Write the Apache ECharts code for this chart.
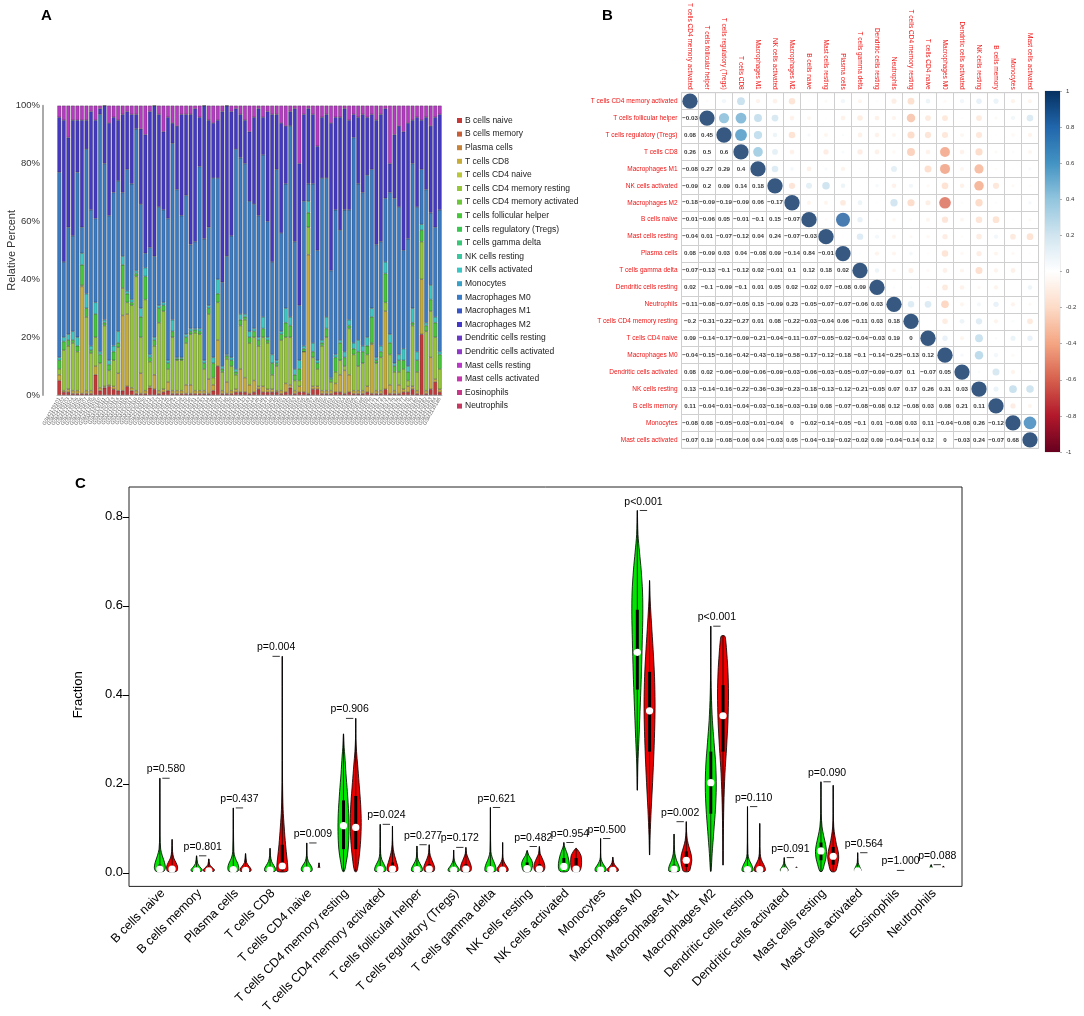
<!DOCTYPE html>
<html>
<head>
<meta charset="utf-8">
<script src="https://cdn.jsdelivr.net/npm/echarts@6.0.0/dist/echarts.min.js"></script>
<style>
html, body { margin: 0; padding: 0; background: #fff; }
#main { width: 1084px; height: 1016px; }
</style>
</head>
<body>
<div id="main"></div>
<script>
var cellTypes = ['B cells naive', 'B cells memory', 'Plasma cells', 'T cells CD8', 'T cells CD4 naive',
  'T cells CD4 memory resting', 'T cells CD4 memory activated', 'T cells follicular helper',
  'T cells regulatory (Tregs)', 'T cells gamma delta', 'NK cells resting', 'NK cells activated',
  'Monocytes', 'Macrophages M0', 'Macrophages M1', 'Macrophages M2', 'Dendritic cells resting',
  'Dendritic cells activated', 'Mast cells resting', 'Mast cells activated', 'Eosinophils', 'Neutrophils'];

var cellColors = ['#c73838', '#c75e38', '#c78438', '#c7ad38', '#bbc738', '#95c738', '#6cc738', '#46c738',
  '#38c750', '#38c778', '#38c79e', '#38c7c5', '#38a1c7', '#387bc7', '#3855c7', '#4438c7', '#6a38c7',
  '#9038c7', '#b938c7', '#c738af', '#c73889', '#c73861'];

// ---- panel A : relative percent per sample ----
var sampleIds = [];
for (var s = 0; s < 85; s++) sampleIds.push('GSM' + (2139101 + s));

var bNaive = [5,1,1,0.5,0.5,0.5,0.5,0.5,7,1.5, 2.5,3,2,1.5,1.5,3,1.5,0.5,0.5,0.5,
  2.5,2,0.5,1,1.5,0.5,0.5,0.5,0.5,0.5, 0.5,0.5,0.5,0.5,1.5,10,0.5,0.5,0.5,1,
  1,1,0.5,1,2,1,1,1,1,0.5, 1,2.5,0.5,1,1,0.5,2,2,0.5,0.5,
  0.5,1,1,0.5,1,0.5,0.5,0.5,1,0.5, 0.5,0.5,2,0.5,0.5,0.5,1,1,2,0.5, 21,0.5,2,4.5,1];
var tCD8 = [2,0.5,1,1,1,37,1,1,3,1, 0.5,0.5,1,6,26,25,1,1,7,1,
  0.5,5,1,1,3,1,1,1,3,3, 1,1,1,5,2,9,1,4,1,1,
  8,5,3,4,1,2,1,1,0.5,1, 3,1,1,2,14,48,1,1,1,1,
  1,3,6,8,6,1,1,1,2,17, 1,1,27,3,1,3,1,2,1,1, 19,1,11,1,1];
var tCD4Resting = [2,14,15,16.5,13.5,0.5,25.5,13,10,8.5, 21,5,9,9,9.5,4,28.5,39.5,12.5,31.5,
  8.5,10,23.5,27,4.5,18.5,10.5,10.5,14.5,17.5, 20,19.5,7.5,22.5,2.5,13,6.5,8,8.5,5,
  15,20,14.5,15,14,17,16,5,8.5,17.5, 16,16.5,3.5,2,0,9.5,10,6,15.5,18.5,
  3,4,5,1.5,16,12.5,8.5,9.5,11,0.5, 9.5,11.5,3,10.5,6.5,4.5,7,2,21,6.5, 13,20.5,16,14.5,7];
var tFollicular = [3,3,2,1,2,7,3,1,8,3, 1,2,3,1.5,8,3,1,1,7,8,
  1.5,2,5,2,2,2,0.5,0.5,2,1, 1,1,2,2,5,3,1,1,2,1,
  2,1,2,2,2,3,1,4,1,2, 5,4,2,4,1,5,2,2,1,3,
  1,5,6,3,1,2,5,4,3,9, 1,2,10,4,2,4,3,3,1,4, 4,2,4,5,5];
var nkActivated = [1,1.5,2,3,3,4,5,1.5,4,1, 1,1.5,2,4,3,1,1,1,3,3,
  1,1,1,1,1,4,0.5,0.5,1,1, 0.5,1,1,1,2,5,1,0.5,1,1,
  2,1,2,1,1,4,1,3,1,1, 5,3,2,3,1,4,3,1,1,4,
  0.5,1,1,2,2,2,4,2,3,3, 1,2,4,3,1,2,4,2,5,3, 2,1,5,2,1];
var macM0 = [64,26,37,33,57,9,50,47,29,82, 54,50,53,52,22,42,40,49,36,5,
  37,28,34,32,49,61,58,49,48,29, 30,56,42,27,62,35,29,34,42,76,
  54,52,45,43,42,56,40,32,66,34, 43,66,44,19,50,6,55,38,56,48,
  37,50,38,49,38,71,54,53,56,48, 39,36,22,49,57,51,34,44,50,50, 19,46,25,31,49];
var macM2 = [19,49,31,40,18,37,10,34,34,2, 20,32,26,21,27,20,24,5,26,41,
  47,52,32,27,35,7,22,35,28,45, 46,17,46,37,19,20,59,52,43,14,
  15,15,24,30,37,13,38,51,19,38, 20,5,46,49,30,26,24,36,21,22,
  51,32,39,35,31,8,23,27,20,19, 43,44,31,10,22,28,41,40,15,31, 17,25,30,38,33];
var mastResting = [4,5,11,5,5,5,5,2,5,1, 0,6,4,5,3,2,3,3,8,10,
  2,0,3,9,4,6,7,3,3,3, 1,4,0,5,6,5,2,0,2,1,
  3,5,9,4,1,4,2,3,3,6, 7,2,1,20,3,1,3,14,4,3,
  6,4,4,1,5,3,4,3,4,3, 5,3,1,20,10,7,9,6,5,4, 5,4,7,4,3];

var barData = {
  'B cells naive': bNaive,
  'T cells CD8': tCD8,
  'T cells CD4 memory resting': tCD4Resting,
  'T cells follicular helper': tFollicular,
  'NK cells activated': nkActivated,
  'Macrophages M0': macM0,
  'Macrophages M2': macM2,
  'Mast cells resting': mastResting
};

// ---- panel B : correlation matrix (lower triangle as printed) ----
var corrNames = ['T cells CD4 memory activated', 'T cells follicular helper', 'T cells regulatory (Tregs)',
  'T cells CD8', 'Macrophages M1', 'NK cells activated', 'Macrophages M2', 'B cells naive',
  'Mast cells resting', 'Plasma cells', 'T cells gamma delta', 'Dendritic cells resting', 'Neutrophils',
  'T cells CD4 memory resting', 'T cells CD4 naive', 'Macrophages M0', 'Dendritic cells activated',
  'NK cells resting', 'B cells memory', 'Monocytes', 'Mast cells activated'];
var corrLower = [
  [],
  [-0.03],
  [0.08, 0.45],
  [0.26, 0.5, 0.6],
  [-0.08, 0.27, 0.29, 0.4],
  [-0.09, 0.2, 0.09, 0.14, 0.18],
  [-0.18, -0.09, -0.19, -0.09, 0.06, -0.17],
  [-0.01, -0.06, 0.05, -0.01, -0.1, 0.15, -0.07],
  [-0.04, 0.01, -0.07, -0.12, 0.04, 0.24, -0.07, -0.03],
  [0.08, -0.09, 0.03, 0.04, -0.08, 0.09, -0.14, 0.84, -0.01],
  [-0.07, -0.13, -0.1, -0.12, 0.02, -0.01, 0.1, 0.12, 0.18, 0.02],
  [0.02, -0.1, -0.09, -0.1, 0.01, 0.05, 0.02, -0.02, 0.07, -0.08, 0.09],
  [-0.11, -0.08, -0.07, -0.05, 0.15, -0.09, 0.23, -0.05, -0.07, -0.07, -0.06, 0.03],
  [-0.2, -0.31, -0.22, -0.27, 0.01, 0.08, -0.22, -0.03, -0.04, 0.06, -0.11, 0.03, 0.18],
  [0.09, -0.14, -0.17, -0.09, -0.21, -0.04, -0.11, -0.07, -0.05, -0.02, -0.04, -0.03, 0.19, 0],
  [-0.04, -0.15, -0.16, -0.42, -0.43, -0.19, -0.58, -0.17, -0.12, -0.18, -0.1, -0.14, -0.25, -0.13, 0.12],
  [0.08, 0.02, -0.06, -0.09, -0.06, -0.09, -0.03, -0.06, -0.03, -0.05, -0.07, -0.09, -0.07, 0.1, -0.07, 0.05],
  [0.13, -0.14, -0.16, -0.22, -0.36, -0.39, -0.23, -0.18, -0.13, -0.12, -0.21, -0.05, 0.07, 0.17, 0.26, 0.31, 0.03],
  [0.11, -0.04, -0.01, -0.04, -0.03, -0.16, -0.03, -0.19, 0.08, -0.07, -0.08, -0.08, 0.12, -0.08, 0.03, 0.08, 0.21, 0.11],
  [-0.08, 0.08, -0.05, -0.03, -0.01, -0.04, 0, -0.02, -0.14, -0.05, -0.1, 0.01, -0.08, 0.03, 0.11, -0.04, -0.08, 0.26, -0.12],
  [-0.07, 0.19, -0.08, -0.06, 0.04, -0.03, 0.05, -0.04, -0.19, -0.02, -0.02, 0.09, -0.04, -0.14, 0.12, 0, -0.03, 0.24, -0.07, 0.68]
];
var colorbarRange = [1, -1];
var rdbu = ['#67001F', '#B2182B', '#D6604D', '#F4A582', '#FDDBC7', '#FFFFFF', '#D1E5F0', '#92C5DE', '#4393C3', '#2166AC', '#053061'];

// ---- panel C : violins, [min, q1, median, q3, max] and outline [value, relative half width] ----
var normalStats = [
  [0, 0.001, 0.005, 0.015, 0.21], [0, 0, 0.001, 0.004, 0.035], [0, 0.001, 0.004, 0.012, 0.143],
  [0, 0.001, 0.003, 0.01, 0.052], [0, 0.001, 0.003, 0.01, 0.064], [0, 0.05, 0.103, 0.16, 0.31],
  [0, 0.001, 0.004, 0.012, 0.106], [0, 0.001, 0.004, 0.012, 0.057], [0, 0.001, 0.003, 0.01, 0.048],
  [0, 0.001, 0.004, 0.012, 0.144], [0, 0.002, 0.006, 0.02, 0.047], [0, 0.004, 0.011, 0.03, 0.065],
  [0, 0.001, 0.003, 0.01, 0.074], [0.183, 0.41, 0.494, 0.59, 0.814], [0, 0.001, 0.005, 0.015, 0.084],
  [0, 0.13, 0.2, 0.27, 0.553], [0, 0.001, 0.004, 0.012, 0.146], [0, 0, 0.001, 0.004, 0.031],
  [0, 0.025, 0.046, 0.065, 0.202], [0, 0, 0.001, 0.004, 0.042], [0, 0, 0, 0, 0.002], [0, 0, 0.001, 0.003, 0.015]
];
var tumorStats = [
  [0, 0.001, 0.005, 0.012, 0.072], [0, 0, 0.001, 0.004, 0.028], [0, 0, 0.002, 0.006, 0.04],
  [0, 0.002, 0.012, 0.06, 0.485], [0, 0, 0, 0.002, 0.019], [0, 0.05, 0.099, 0.17, 0.345],
  [0, 0.001, 0.005, 0.02, 0.102], [0, 0.001, 0.005, 0.016, 0.06], [0, 0.001, 0.005, 0.016, 0.054],
  [0, 0.001, 0.003, 0.01, 0.065], [0, 0.001, 0.005, 0.016, 0.056], [0, 0.001, 0.005, 0.03, 0.052],
  [0, 0, 0.002, 0.006, 0.032], [0.037, 0.27, 0.362, 0.45, 0.656], [0, 0.01, 0.025, 0.045, 0.112],
  [0.014, 0.27, 0.351, 0.42, 0.531], [0, 0.001, 0.004, 0.012, 0.108], [0, 0, 0, 0.002, 0.01],
  [0, 0.015, 0.034, 0.055, 0.194], [0, 0, 0, 0.001, 0.006], [0, 0, 0, 0, 0.002], [0, 0, 0.001, 0.002, 0.012]
];
var normalShape = [
  [[0,0.7],[0.008,1],[0.02,0.85],[0.035,0.45],[0.05,0.15],[0.08,0.04],[0.21,0.01]],
  [[0,0.9],[0.004,1],[0.01,0.6],[0.018,0.2],[0.035,0.02]],
  [[0,0.8],[0.008,1],[0.018,0.8],[0.03,0.35],[0.045,0.1],[0.143,0.01]],
  [[0,0.9],[0.006,1],[0.013,0.7],[0.022,0.3],[0.035,0.08],[0.052,0.01]],
  [[0,0.85],[0.006,1],[0.014,0.7],[0.022,0.3],[0.035,0.06],[0.064,0.01]],
  [[0,0.15],[0.02,0.5],[0.05,0.85],[0.09,1],[0.13,0.95],[0.18,0.7],[0.22,0.45],[0.26,0.25],[0.28,0.12],[0.31,0.02]],
  [[0,0.9],[0.007,1],[0.016,0.7],[0.026,0.3],[0.04,0.08],[0.106,0.01]],
  [[0,0.9],[0.006,1],[0.014,0.7],[0.022,0.35],[0.032,0.1],[0.057,0.01]],
  [[0,0.9],[0.005,1],[0.012,0.6],[0.02,0.25],[0.03,0.06],[0.048,0.01]],
  [[0,0.9],[0.008,1],[0.018,0.75],[0.03,0.35],[0.045,0.08],[0.144,0.01]],
  [[0,0.6],[0.008,0.9],[0.018,1],[0.028,0.7],[0.036,0.3],[0.047,0.02]],
  [[0,0.7],[0.01,1],[0.025,0.9],[0.04,0.6],[0.05,0.3],[0.058,0.08],[0.065,0.01]],
  [[0,0.9],[0.006,1],[0.014,0.6],[0.022,0.25],[0.032,0.05],[0.074,0.01]],
  [[0.183,0.02],[0.24,0.1],[0.3,0.3],[0.38,0.55],[0.45,0.75],[0.52,0.9],[0.58,1],[0.63,0.95],[0.68,0.7],[0.72,0.4],[0.76,0.12],[0.814,0.01]],
  [[0,0.9],[0.006,1],[0.015,0.8],[0.025,0.45],[0.04,0.15],[0.06,0.04],[0.084,0.01]],
  [[0,0.05],[0.04,0.25],[0.09,0.55],[0.14,0.85],[0.19,1],[0.24,0.9],[0.29,0.6],[0.34,0.3],[0.4,0.1],[0.46,0.03],[0.553,0.01]],
  [[0,0.9],[0.006,1],[0.016,0.7],[0.026,0.3],[0.04,0.08],[0.146,0.01]],
  [[0,0.6],[0.004,0.7],[0.01,0.4],[0.018,0.1],[0.031,0.01]],
  [[0,0.2],[0.015,0.6],[0.03,0.9],[0.045,1],[0.06,0.85],[0.08,0.5],[0.1,0.2],[0.13,0.05],[0.202,0.01]],
  [[0,0.5],[0.004,0.6],[0.012,0.3],[0.02,0.08],[0.042,0.01]],
  [[0,0.3],[0.002,0.05]],
  [[0,0.3],[0.005,0.3],[0.015,0.02]]
];
var tumorShape = [
  [[0,0.8],[0.01,1],[0.02,0.7],[0.03,0.3],[0.045,0.08],[0.072,0.01]],
  [[0,0.9],[0.004,1],[0.01,0.5],[0.016,0.15],[0.028,0.02]],
  [[0,0.9],[0.005,1],[0.012,0.6],[0.02,0.2],[0.04,0.02]],
  [[0,0.9],[0.01,1],[0.03,0.85],[0.06,0.6],[0.1,0.35],[0.14,0.15],[0.2,0.05],[0.3,0.02],[0.485,0.01]],
  [[0,0.15],[0.005,0.2],[0.012,0.08],[0.019,0.02]],
  [[0,0.2],[0.03,0.6],[0.07,0.9],[0.11,1],[0.15,0.9],[0.2,0.6],[0.24,0.35],[0.27,0.15],[0.3,0.04],[0.345,0.01]],
  [[0,0.8],[0.008,1],[0.02,0.75],[0.035,0.4],[0.05,0.15],[0.07,0.04],[0.102,0.01]],
  [[0,0.8],[0.008,1],[0.018,0.75],[0.03,0.35],[0.042,0.1],[0.06,0.01]],
  [[0,0.8],[0.008,1],[0.018,0.8],[0.03,0.4],[0.04,0.12],[0.054,0.01]],
  [[0,0.9],[0.006,1],[0.014,0.6],[0.022,0.25],[0.032,0.06],[0.065,0.01]],
  [[0,0.7],[0.008,1],[0.018,0.9],[0.03,0.5],[0.04,0.15],[0.056,0.01]],
  [[0,0.6],[0.008,0.9],[0.02,1],[0.035,0.9],[0.045,0.5],[0.052,0.05]],
  [[0,0.9],[0.005,1],[0.012,0.5],[0.02,0.15],[0.032,0.01]],
  [[0.037,0.02],[0.08,0.1],[0.14,0.3],[0.2,0.55],[0.27,0.8],[0.33,0.95],[0.38,1],[0.44,0.9],[0.5,0.65],[0.56,0.35],[0.61,0.12],[0.656,0.01]],
  [[0,0.5],[0.01,0.8],[0.025,1],[0.04,0.85],[0.055,0.5],[0.07,0.2],[0.09,0.05],[0.112,0.01]],
  [[0.014,0.02],[0.08,0.06],[0.15,0.15],[0.22,0.35],[0.28,0.65],[0.34,0.9],[0.4,1],[0.45,0.9],[0.49,0.7],[0.52,0.5],[0.531,0.3]],
  [[0,0.9],[0.007,1],[0.016,0.7],[0.026,0.3],[0.04,0.08],[0.108,0.01]],
  [[0,0.2],[0.004,0.25],[0.01,0.02]],
  [[0,0.4],[0.015,0.8],[0.03,1],[0.045,0.9],[0.06,0.6],[0.08,0.3],[0.1,0.1],[0.13,0.03],[0.194,0.01]],
  [[0,0.2],[0.003,0.2],[0.006,0.02]],
  [[0,0.3],[0.002,0.05]],
  [[0,0.3],[0.004,0.3],[0.012,0.02]]
];
var pLabels = ['p=0.580', 'p=0.801', 'p=0.437', 'p=0.004', 'p=0.009', 'p=0.906', 'p=0.024', 'p=0.277',
  'p=0.172', 'p=0.621', 'p=0.482', 'p=0.954', 'p=0.500', 'p<0.001', 'p=0.002', 'p<0.001', 'p=0.110',
  'p=0.091', 'p=0.090', 'p=0.564', 'p=1.000', 'p=0.088'];

var FONT = 'Liberation Sans, Arial, sans-serif';
var chart = echarts.init(document.getElementById('main'));

// panel C plot box: y from -0.034 (bottom edge) to 0.867 (top edge)
var boxTop = 487, boxHeight = 401, yLo = -0.034, yHi = 0.867;
function boxY(v) { return boxTop + boxHeight * (yHi - v) / (yHi - yLo); }

// stacked bars, one series per cell type
var series = cellTypes.map(function (name, i) {
  return {
    name: name,
    type: 'bar',
    stack: 'total',
    xAxisIndex: 0,
    yAxisIndex: 0,
    barCategoryGap: '18%',
    data: barData[name] || [],
    itemStyle: { color: cellColors[i], borderColor: 'rgba(40,40,40,0.85)', borderWidth: 0.4 }
  };
});

// correlation circles (diagonal + upper) and numbers (lower)
var circleData = [], numberData = [];
for (var i = 0; i < corrNames.length; i++) {
  for (var j = 0; j < corrNames.length; j++) {
    if (j < i) numberData.push([j, i, corrLower[i][j]]);
    else if (j === i) circleData.push([j, i, 1]);
    else circleData.push([j, i, corrLower[j][i]]);
  }
}
series.push({
  type: 'scatter', xAxisIndex: 1, yAxisIndex: 1, symbol: 'circle',
  symbolSize: function (v) { return 0.9 * Math.sqrt(Math.abs(v[2])) * 17; },
  data: circleData, silent: true
});
series.push({
  type: 'scatter', xAxisIndex: 1, yAxisIndex: 1, symbolSize: 1,
  itemStyle: { color: 'rgba(0,0,0,0)' },
  label: {
    show: true, position: 'inside', color: '#000', fontSize: 6.2, fontWeight: 'bold', fontFamily: FONT,
    formatter: function (p) { return String(p.value[2]).replace('-', '\u2212'); }
  },
  data: numberData, silent: true
});
// colour key
series.push({
  type: 'bar', xAxisIndex: 2, yAxisIndex: 2, stack: 'cb', barWidth: '100%', silent: true,
  data: [colorbarRange[0]],
  itemStyle: { color: new echarts.graphic.LinearGradient(0, 0, 0, 1, [
    { offset: 0, color: rdbu[10] }, { offset: 0.2, color: rdbu[9] }, { offset: 0.4, color: rdbu[8] },
    { offset: 0.6, color: rdbu[7] }, { offset: 0.8, color: rdbu[6] }, { offset: 1, color: rdbu[5] }]) }
});
series.push({
  type: 'bar', xAxisIndex: 2, yAxisIndex: 2, stack: 'cb', barWidth: '100%', silent: true,
  data: [colorbarRange[1]],
  itemStyle: { color: new echarts.graphic.LinearGradient(0, 0, 0, 1, [
    { offset: 0, color: rdbu[5] }, { offset: 0.2, color: rdbu[4] }, { offset: 0.4, color: rdbu[3] },
    { offset: 0.6, color: rdbu[2] }, { offset: 0.8, color: rdbu[1] }, { offset: 1, color: rdbu[0] }]) }
});

function violinRender(stats, shapes, offset, fill) {
  return function (params, api) {
    var k = params.dataIndex;
    var st = stats[k], sh = shapes[k];
    var x = 3 * k + offset;
    var half = api.size([0.45, 0])[0];
    var right = [], left = [];
    for (var n = 0; n < sh.length; n++) {
      var c = api.coord([x, sh[n][0]]);
      right.push([c[0] + sh[n][1] * half, c[1]]);
      left.unshift([c[0] - sh[n][1] * half, c[1]]);
    }
    var lo = api.coord([x, st[0]]), hi = api.coord([x, st[4]]);
    var q1 = api.coord([x, st[1]]), q3 = api.coord([x, st[3]]);
    var md = api.coord([x, st[2]]);
    return {
      type: 'group',
      children: [
        { type: 'polygon', shape: { points: right.concat(left), smooth: 0.3 },
          style: { fill: fill, stroke: '#000', lineWidth: 0.8 } },
        { type: 'line', shape: { x1: lo[0], y1: lo[1], x2: hi[0], y2: hi[1] },
          style: { stroke: '#000', lineWidth: 0.8 } },
        { type: 'rect', shape: { x: q1[0] - 1.5, y: q3[1], width: 3, height: Math.max(q1[1] - q3[1], 0.5) },
          style: { fill: '#000' } },
        { type: 'circle', shape: { cx: md[0], cy: md[1], r: 3.6 }, style: { fill: '#fff' } }
      ]
    };
  };
}
series.push({
  type: 'custom', xAxisIndex: 3, yAxisIndex: 3, silent: true, clip: false,
  renderItem: violinRender(normalStats, normalShape, 0, '#00e600'),
  data: normalStats.map(function (st, k) { return [3 * k, st[4]]; })
});
series.push({
  type: 'custom', xAxisIndex: 3, yAxisIndex: 3, silent: true, clip: false,
  renderItem: violinRender(tumorStats, tumorShape, 1, '#ee0000'),
  data: tumorStats.map(function (st, k) { return [3 * k + 1, st[4]]; })
});
series.push({
  type: 'custom', xAxisIndex: 3, yAxisIndex: 3, silent: true, clip: false,
  renderItem: function (params, api) {
    var k = params.dataIndex;
    var mx = Math.max(normalStats[k][4], tumorStats[k][4]);
    var a = api.coord([3 * k + 0.2, mx]), b = api.coord([3 * k + 0.8, mx]);
    var t = api.coord([3 * k + 0.5, mx + 0.02]);
    return {
      type: 'group',
      children: [
        { type: 'line', shape: { x1: a[0], y1: a[1], x2: b[0], y2: b[1] }, style: { stroke: '#000', lineWidth: 0.8 } },
        { type: 'text', style: { text: pLabels[k], x: t[0], y: t[1], align: 'center', verticalAlign: 'middle',
          fill: '#000', fontSize: 10.5, fontFamily: FONT } }
      ]
    };
  },
  data: pLabels.map(function (p, k) { return [3 * k + 0.5, Math.max(normalStats[k][4], tumorStats[k][4])]; })
});

var labelOffset = 0.25;

chart.setOption({
  animation: false,
  backgroundColor: '#fff',
  textStyle: { fontFamily: FONT },
  title: [
    { text: 'A', left: 36, top: 3, textStyle: { fontSize: 15, fontWeight: 'bold', color: '#000', fontFamily: FONT } },
    { text: 'B', left: 597, top: 3, textStyle: { fontSize: 15, fontWeight: 'bold', color: '#000', fontFamily: FONT } },
    { text: 'C', left: 70, top: 471, textStyle: { fontSize: 15, fontWeight: 'bold', color: '#000', fontFamily: FONT } }
  ],
  legend: {
    data: cellTypes, orient: 'vertical', left: 452, top: 111, icon: 'rect',
    itemWidth: 5, itemHeight: 5, itemGap: 4.6, selectedMode: false,
    itemStyle: { borderWidth: 0 },
    textStyle: { fontSize: 8.5, color: '#222', fontFamily: FONT, padding: [0, 0, 0, -2] }
  },
  visualMap: {
    show: false, type: 'continuous', seriesIndex: 22, dimension: 2, min: -1, max: 1,
    inRange: { color: rdbu }
  },
  grid: [
    { left: 57, top: 105.7, width: 385, height: 289.3 },
    { left: 681.5, top: 90.8, width: 357, height: 357.5, show: true, borderColor: '#cfcfcf', borderWidth: 1 },
    { left: 1045, top: 91, width: 15, height: 361, show: true, borderColor: '#bbb', borderWidth: 0.5 },
    { left: 129, top: boxTop, width: 833, height: boxHeight, show: true, borderColor: '#222', borderWidth: 1 },
    // same plot box, restricted to the 0 .. 0.8 tick span, only carries the fraction ticks
    { left: 129, top: boxY(0.8), width: 833, height: boxY(0) - boxY(0.8) }
  ],
  xAxis: [
    { type: 'category', gridIndex: 0, data: sampleIds,
      axisLine: { lineStyle: { color: '#bbb' } }, axisTick: { show: false },
      axisLabel: { interval: 0, rotate: 60, fontSize: 5, color: '#666', margin: 3 } },
    { type: 'category', gridIndex: 1, data: corrNames, position: 'top',
      axisLine: { show: false }, axisTick: { show: false },
      splitLine: { show: true, interval: 0, lineStyle: { color: '#cfcfcf', width: 1 } },
      axisLabel: { interval: 0, rotate: 90, fontSize: 6.5, color: '#f01414', margin: 3 } },
    { type: 'category', gridIndex: 2, data: ['key'], show: false },
    { type: 'value', gridIndex: 3, min: -2.52, max: 65.52,
      axisLine: { show: false }, axisTick: { show: false }, splitLine: { show: false },
      axisLabel: {
        customValues: cellTypes.map(function (c, k) { return 3 * k + labelOffset; }),
        formatter: function (v) { return cellTypes[Math.round((v - labelOffset) / 3)]; },
        rotate: 45, fontSize: 12.5, color: '#000', margin: 5
      } },
    { type: 'value', gridIndex: 4, min: 0, max: 1, show: false }
  ],
  yAxis: [
    { type: 'value', gridIndex: 0, min: 0, max: 100, interval: 20, offset: 14,
      name: 'Relative Percent', nameLocation: 'middle', nameGap: 26, nameMoveOverlap: false,
      nameTextStyle: { fontSize: 11, color: '#333' },
      axisLine: { show: true, lineStyle: { color: '#aaa', width: 2 } },
      axisTick: { show: false }, splitLine: { show: false },
      axisLabel: { formatter: '{value}%', fontSize: 9.5, color: '#333', margin: 3 } },
    { type: 'category', gridIndex: 1, data: corrNames, inverse: true,
      axisLine: { show: false }, axisTick: { show: false },
      splitLine: { show: true, interval: 0, lineStyle: { color: '#cfcfcf', width: 1 } },
      axisLabel: { interval: 0, fontSize: 6.5, color: '#f01414', margin: 4 } },
    { type: 'value', gridIndex: 2, min: -1, max: 1, interval: 0.2, position: 'right',
      axisLine: { show: false }, splitLine: { show: false },
      axisTick: { show: true, length: 2, lineStyle: { color: '#666', width: 0.5 } },
      axisLabel: { fontSize: 6, color: '#333', margin: 6 } },
    { type: 'value', gridIndex: 3, min: yLo, max: yHi, show: false },
    { type: 'value', gridIndex: 4, min: 0, max: 0.8, interval: 0.2,
      name: 'Fraction', nameLocation: 'middle', nameGap: 44, nameMoveOverlap: false,
      nameTextStyle: { fontSize: 13, color: '#000' },
      axisLine: { show: false }, splitLine: { show: false },
      axisTick: { show: true, length: 6, lineStyle: { color: '#000' } },
      axisLabel: { fontSize: 13, color: '#000', margin: 6,
        formatter: function (v) { return v.toFixed(1); } } }
  ],
  series: series
});
</script>
</body>
</html>
